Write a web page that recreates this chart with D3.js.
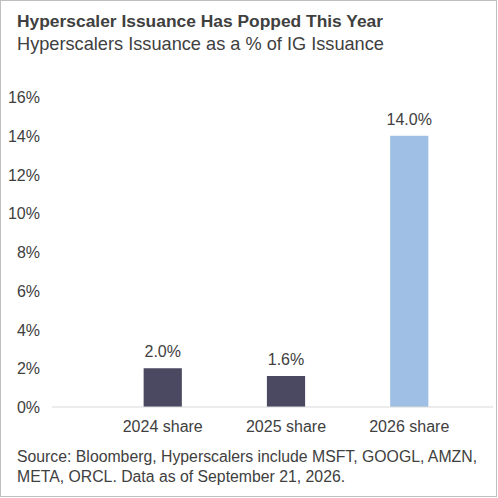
<!DOCTYPE html>
<html><head><meta charset="utf-8">
<script src="https://cdn.jsdelivr.net/npm/d3@7"></script>
<style>body{margin:0;background:#fff;font-family:Arial,"Liberation Sans",sans-serif}</style>
</head><body><div id="chart"></div>
<script>
const categories = ['2024 share', '2025 share', '2026 share'];
const values = [2.0, 1.6, 14.0];
const barColors = ['#4b4861', '#4b4861', '#9fc0e4'];
const yTicks = [0, 2, 4, 6, 8, 10, 12, 14, 16];

const svg = d3.select('#chart').append('svg').attr('width', 498).attr('height', 498);
svg.append('rect').attr('x', 0.5).attr('y', 0.5).attr('width', 496).attr('height', 496)
    .attr('fill', '#fff').attr('stroke', '#bfbfbf');

svg.append('text').attr('x', 17).attr('y', 27).attr('font-size', 17.4).attr('font-weight', 'bold')
    .attr('fill', '#404040').text('Hyperscaler Issuance Has Popped This Year');
svg.append('text').attr('x', 17).attr('y', 50).attr('font-size', 18.2)
    .attr('fill', '#404040').text('Hyperscalers Issuance as a % of IG Issuance');

const x = d3.scaleBand().domain(categories).range([82, 490]).paddingInner(0.69).paddingOuter(0.5);
const y = d3.scaleLinear().domain([0, 16]).range([407, 97]);

svg.append('g').selectAll('text').data(yTicks).enter().append('text')
    .attr('x', 40).attr('y', d => y(d) + 6).attr('text-anchor', 'end')
    .attr('font-size', 16).attr('fill', '#404040').text(d => d + '%');

svg.selectAll('rect.bar').data(values).enter().append('rect').attr('class', 'bar')
    .attr('x', (d, i) => x(categories[i])).attr('width', x.bandwidth())
    .attr('y', d => y(d)).attr('height', d => y(0) - y(d))
    .attr('fill', (d, i) => barColors[i]);

svg.selectAll('text.val').data(values).enter().append('text').attr('class', 'val')
    .attr('x', (d, i) => x(categories[i]) + x.bandwidth() / 2).attr('y', d => y(d) - 11)
    .attr('text-anchor', 'middle').attr('font-size', 16).attr('fill', '#404040')
    .text(d => d.toFixed(1) + '%');

svg.append('line').attr('x1', 52).attr('x2', 493).attr('y1', y(0)).attr('y2', y(0))
    .attr('stroke', '#d9d9d9').attr('stroke-width', 1.2);

svg.selectAll('text.cat').data(categories).enter().append('text').attr('class', 'cat')
    .attr('x', d => x(d) + x.bandwidth() / 2).attr('y', 432)
    .attr('text-anchor', 'middle').attr('font-size', 16).attr('fill', '#404040').text(d => d);

const src = ['Source: Bloomberg, Hyperscalers include MSFT, GOOGL, AMZN,', 'META, ORCL. Data as of September 21, 2026.'];
svg.selectAll('text.src').data(src).enter().append('text').attr('class', 'src')
    .attr('x', 17).attr('y', (d, i) => 462 + i * 20).attr('font-size', 15.8).attr('fill', '#404040').text(d => d);
</script></body></html>
